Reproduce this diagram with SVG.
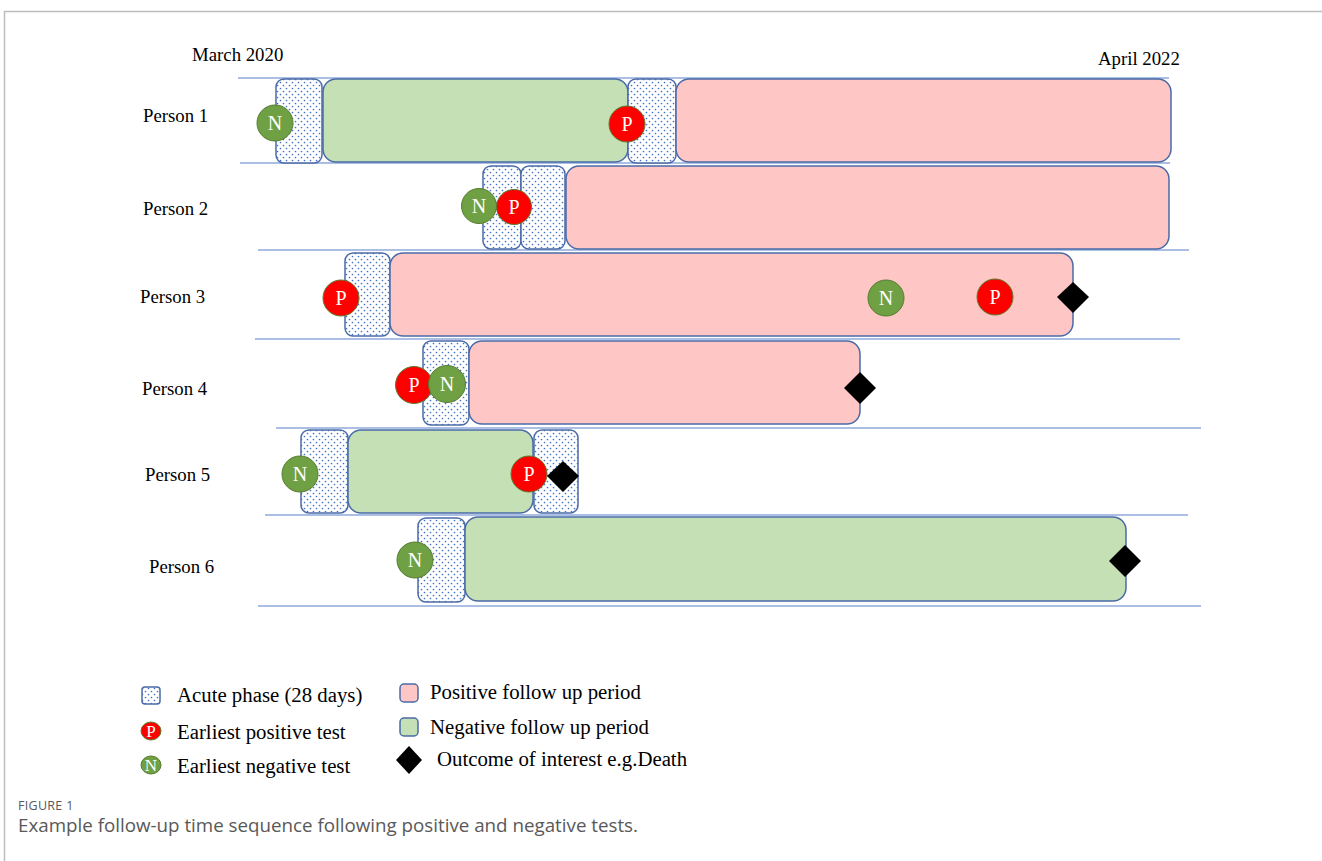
<svg xmlns="http://www.w3.org/2000/svg" width="1322" height="861" viewBox="0 0 1322 861">
<style>
.lbl{font-family:"Liberation Serif","Times New Roman",serif;font-size:18.8px;fill:#000}
.lg{font-family:"Liberation Serif","Times New Roman",serif;font-size:20.8px;fill:#000}
.row{stroke:#8FAADC;stroke-width:1.5;fill:none}
.acute{fill:url(#dots);stroke:#4A6BA8;stroke-width:1.5}
.pos{fill:#FFC6C6;stroke:#4A6BA8;stroke-width:1.5}
.neg{fill:#C6E0B5;stroke:#4A6BA8;stroke-width:1.5}
.cn{fill:#6FA043;stroke:#557D2F;stroke-width:1}
.cp{fill:#FF0000;stroke:#5E7A2E;stroke-width:1}
.ct{font-family:"Liberation Serif","Times New Roman",serif;font-size:20px;fill:#fff;text-anchor:middle}
.dia{fill:#000}
.cap{font-family:"Open Sans","Noto Sans",sans-serif;fill:#595959}
</style>
<defs>
<pattern id="dots" patternUnits="userSpaceOnUse" width="6" height="6">
<rect width="6" height="6" fill="#fff"/>
<circle cx="1.5" cy="1.5" r="0.85" fill="#4472C4"/>
<circle cx="4.5" cy="4.5" r="0.85" fill="#4472C4"/>
</pattern>
</defs>
<rect width="1322" height="861" fill="#fff"/>
<g id="frame" stroke="#BDBDBD" stroke-width="1.5" fill="none">
<path d="M4.5 861 V11.5 H1322"/>
</g>
<g id="axis-labels">
<text class="lbl" x="192" y="61">March 2020</text>
<text class="lbl" x="1098" y="65">April 2022</text>
</g>
<g id="connectors">
<line class="row" x1="238" y1="78" x2="1169" y2="78"/>
<line class="row" x1="240" y1="163" x2="1170" y2="163"/>
<line class="row" x1="258" y1="250" x2="1189" y2="250"/>
<line class="row" x1="255" y1="339" x2="1180" y2="339"/>
<line class="row" x1="276" y1="428" x2="1201" y2="428"/>
<line class="row" x1="265" y1="515" x2="1188" y2="515"/>
<line class="row" x1="258" y1="606" x2="1201" y2="606"/>
</g>
<g id="person1">
<text class="lbl" x="143" y="122">Person 1</text>
<rect class="acute" x="276" y="79" width="46" height="84" rx="8"/>
<rect class="neg" x="323" y="79" width="305" height="83" rx="13"/>
<rect class="acute" x="628" y="79" width="48" height="84" rx="8"/>
<rect class="pos" x="676" y="79" width="495" height="83" rx="13"/>
<circle class="cn" cx="275" cy="123" r="18"/><text class="ct" x="275" y="130">N</text>
<circle class="cp" cx="627" cy="124" r="18"/><text class="ct" x="627" y="131">P</text>
</g>
<g id="person2">
<text class="lbl" x="143" y="215">Person 2</text>
<rect class="acute" x="483" y="166" width="38" height="83" rx="8"/>
<rect class="acute" x="521" y="166" width="44" height="83" rx="8"/>
<rect class="pos" x="566" y="166" width="603" height="83" rx="13"/>
<circle class="cn" cx="479" cy="206" r="17.5"/><text class="ct" x="479" y="213">N</text>
<circle class="cp" cx="514" cy="207" r="17.5"/><text class="ct" x="514" y="214">P</text>
</g>
<g id="person3">
<text class="lbl" x="140" y="303">Person 3</text>
<rect class="acute" x="345" y="253" width="45" height="83" rx="8"/>
<rect class="pos" x="390" y="253" width="683" height="83" rx="13"/>
<circle class="cp" cx="341" cy="298" r="18"/><text class="ct" x="341" y="305">P</text>
<circle class="cn" cx="886" cy="298" r="18"/><text class="ct" x="886" y="305">N</text>
<circle class="cp" cx="995" cy="297" r="18"/><text class="ct" x="995" y="304">P</text>
<polygon class="dia" points="1073,282 1089,297 1073,313 1057,297"/>
</g>
<g id="person4">
<text class="lbl" x="142" y="395">Person 4</text>
<rect class="acute" x="423" y="341" width="46" height="84" rx="8"/>
<rect class="pos" x="469" y="341" width="391" height="83" rx="13"/>
<circle class="cp" cx="414" cy="385" r="18.5"/><text class="ct" x="414" y="392">P</text>
<circle class="cn" cx="447" cy="384" r="18.5"/><text class="ct" x="447" y="391">N</text>
<polygon class="dia" points="860,372 876,388 860,404 844,388"/>
</g>
<g id="person5">
<text class="lbl" x="145" y="481">Person 5</text>
<rect class="acute" x="301" y="430" width="47" height="83" rx="8"/>
<rect class="neg" x="348" y="430" width="185" height="83" rx="13"/>
<rect class="acute" x="534" y="430" width="44" height="83" rx="8"/>
<circle class="cn" cx="300" cy="474" r="18"/><text class="ct" x="300" y="481">N</text>
<circle class="cp" cx="529" cy="474" r="18"/><text class="ct" x="529" y="481">P</text>
<polygon class="dia" points="563,461 579,476 563,492 547,476"/>
</g>
<g id="person6">
<text class="lbl" x="149" y="573">Person 6</text>
<rect class="acute" x="418" y="518" width="47" height="84" rx="8"/>
<rect class="neg" x="465" y="517" width="661" height="84" rx="13"/>
<circle class="cn" cx="415" cy="560" r="18"/><text class="ct" x="415" y="567">N</text>
<polygon class="dia" points="1125,545 1141,561 1125,577 1109,561"/>
</g>
<g id="legend">
<rect class="acute" x="142" y="687" width="18" height="17" rx="3" stroke-width="1"/>
<text class="lg" x="177" y="702">Acute phase (28 days)</text>
<ellipse class="cp" cx="151" cy="731" rx="10" ry="9"/><text class="ct" x="151" y="737" style="font-size:17px">P</text>
<text class="lg" x="177" y="739">Earliest positive test</text>
<ellipse class="cn" cx="151" cy="765" rx="10" ry="9"/><text class="ct" x="151" y="771" style="font-size:17px">N</text>
<text class="lg" x="177" y="773">Earliest negative test</text>
<rect class="pos" x="400" y="684" width="18" height="18" rx="4" stroke-width="1"/>
<text class="lg" x="430" y="699">Positive follow up period</text>
<rect class="neg" x="400" y="718" width="18" height="18" rx="4" stroke-width="1"/>
<text class="lg" x="430" y="734">Negative follow up period</text>
<polygon class="dia" points="409,746 422,760 409,774 396,760"/>
<text class="lg" x="437" y="766">Outcome of interest e.g.Death</text>
</g>
<g id="caption">
<text class="cap" x="18" y="810" style="font-size:12.5px;letter-spacing:0.3px">FIGURE 1</text>
<text class="cap" x="18" y="832" style="font-size:17.5px" textLength="620" lengthAdjust="spacingAndGlyphs">Example follow-up time sequence following positive and negative tests.</text>
</g>
</svg>
